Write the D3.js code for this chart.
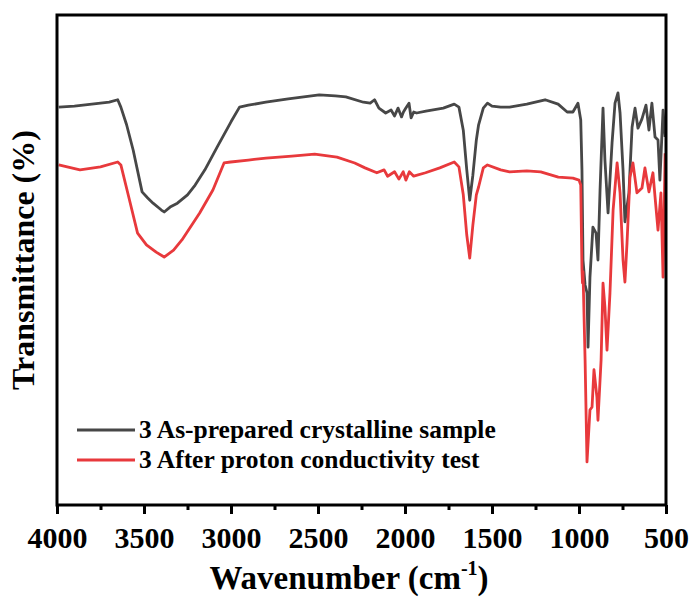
<!DOCTYPE html>
<html>
<head>
<meta charset="utf-8">
<script src="https://cdn.jsdelivr.net/npm/d3@7"></script>
<style>
  body { margin: 0; background: #ffffff; }
</style>
</head>
<body>
<div id="chart"></div>
<script>
// ------------------ data --------------------------------------------------
var seriesNames = ['3 As-prepared crystalline sample', '3 After proton conductivity test'];
var seriesColors = ['#474747', '#e8393c'];

var xTicks = [4000, 3500, 3000, 2500, 2000, 1500, 1000, 500];
var xMinorTicks = [3750, 3250, 2750, 2250, 1750, 1250, 750];

// as-prepared sample: wavenumber / transmittance (arbitrary %)
var asWave = [3990, 3900, 3800, 3700, 3651, 3633, 3600, 3562, 3511, 3480, 3448, 3400, 3384, 3350, 3308, 3250,
  3206, 3150, 3079, 3000, 2951, 2900, 2800, 2671, 2493, 2400, 2340, 2239, 2200, 2175, 2150, 2111, 2080, 2060,
  2040, 2020, 2009, 1995, 1977, 1965, 1950, 1933, 1880, 1780, 1717, 1690, 1665, 1645, 1628, 1610, 1590, 1577,
  1550, 1526, 1500, 1450, 1399, 1300, 1195, 1120, 1068, 1035, 1006, 990, 983, 977, 965, 954, 948, 937, 920,
  902, 891, 879, 862, 851, 833, 810, 793, 776, 764, 747, 736, 713, 695, 678, 661, 638, 615, 598, 581, 563,
  546, 535, 517, 505];
var asVal = [81.2, 81.4, 81.8, 82.2, 82.7, 81.2, 77.6, 72.4, 63.9, 62.7, 61.6, 60.2, 59.8, 60.8, 61.6, 63.3,
  65.3, 68.4, 73.1, 78.2, 81.2, 81.6, 82.2, 82.9, 83.7, 83.5, 83.3, 82.2, 82.0, 82.7, 81.0, 80.0, 80.6, 79.4,
  81.0, 79.2, 80.2, 81.0, 82.0, 79.0, 80.2, 80.0, 80.4, 81.0, 81.8, 81.2, 76.5, 68.4, 62.2, 67.3, 74.5, 77.6,
  81.0, 82.0, 81.4, 81.2, 81.2, 81.8, 82.7, 81.8, 80.2, 80.2, 82.0, 78.6, 68.4, 50.0, 44.9, 43.3, 32.2, 46.5, 56.7,
  55.5, 50.0, 64.3, 81.0, 70.4, 59.6, 73.9, 82.0, 84.1, 80.0, 68.4, 57.8, 63.7, 77.1, 81.0, 76.9, 78.8, 81.6, 76.5, 82.0, 75.1,
  74.5, 66.3, 80.6, 75.1];

// after proton conductivity test
var afWave = [3990, 3868, 3750, 3651, 3633, 3588, 3537, 3486, 3430, 3384, 3330, 3282, 3180, 3104, 3040, 3002,
  2900, 2799, 2650, 2519, 2391, 2289, 2230, 2162, 2120, 2100, 2060, 2035, 2010, 1995, 1975, 1950, 1882, 1800,
  1717, 1690, 1665, 1645, 1628, 1610, 1590, 1577, 1550, 1526, 1450, 1399, 1300, 1220, 1119, 1035, 1000, 990,
  983, 980, 977, 965, 954, 937, 925, 914, 897, 891, 873, 862, 851, 839, 822, 804, 781, 764, 747, 736, 724,
  707, 690, 667, 638, 621, 598, 575, 563, 546, 529, 517, 505];
var afVal = [69.4, 68.4, 69.0, 70.0, 69.4, 62.9, 55.5, 53.1, 51.6, 50.6, 52.0, 54.1, 59.6, 64.3, 69.8, 70.0,
  70.4, 70.8, 71.2, 71.6, 71.0, 69.8, 68.8, 67.8, 68.4, 67.1, 68.0, 66.5, 68.0, 66.3, 68.0, 67.1, 67.8, 68.8,
  70.0, 69.0, 63.3, 55.1, 50.4, 57.1, 63.3, 64.9, 68.8, 69.4, 68.4, 68.0, 68.2, 68.0, 66.9, 66.7, 66.3, 65.3,
  48.0, 45.3, 47.6, 29.6, 8.8, 19.4, 20.0, 27.6, 22.0, 17.3, 29.6, 45.3, 40.4, 31.6, 43.3, 60.2, 69.8, 63.7, 50.0, 45.5, 53.5,
  66.9, 69.8, 63.7, 64.7, 68.8, 63.9, 67.8, 62.9, 56.1, 63.7, 46.5, 71.8];

// ------------------ layout ---------------------------
var width = 695, height = 597;
var margin = {left: 57, top: 15, right: 29, bottom: 92};
var pw = width - margin.left - margin.right;
var ph = height - margin.top - margin.bottom;
var font = "'Liberation Serif', 'DejaVu Serif', serif";

var svg = d3.select('#chart').append('svg').attr('width', width).attr('height', height)
            .style('font-family', font).style('font-weight', 'bold');

var x = d3.scaleLinear().domain([4000, 500]).range([margin.left, margin.left + pw]);
var y = d3.scaleLinear().domain([0, 100]).range([margin.top + ph, margin.top]);

svg.append('clipPath').attr('id', 'clip')
   .append('rect').attr('x', margin.left).attr('y', margin.top).attr('width', pw).attr('height', ph);

// ------------------ curves ---------------------------
var series = [d3.zip(asWave, asVal), d3.zip(afWave, afVal)];
var line = d3.line().x(d => x(d[0])).y(d => y(d[1]));

svg.append('g').attr('clip-path', 'url(#clip)')
   .selectAll('path').data(series).enter()
   .append('path').attr('d', line)
   .attr('fill', 'none').attr('stroke', (d, i) => seriesColors[i])
   .attr('stroke-width', 2.8).attr('stroke-linejoin', 'round');

// ------------------ frame ---------------------------
svg.append('rect').attr('x', margin.left).attr('y', margin.top).attr('width', pw).attr('height', ph)
   .attr('fill', 'none').attr('stroke', '#000').attr('stroke-width', 3);

// ------------------ x axis ---------------------------
var xAxis = svg.append('g').attr('transform', `translate(0,${margin.top + ph})`)
   .call(d3.axisBottom(x).tickValues(xTicks).tickFormat(d3.format('d')).tickSize(9).tickPadding(13));
xAxis.attr('font-family', null).attr('font-size', null);
xAxis.select('.domain').remove();
xAxis.selectAll('line').attr('stroke', '#000').attr('stroke-width', 3);
xAxis.selectAll('text').style('font-size', '30px').attr('fill', '#000');

var xMinor = svg.append('g').attr('transform', `translate(0,${margin.top + ph})`)
   .call(d3.axisBottom(x).tickValues(xMinorTicks).tickFormat('').tickSize(5));
xMinor.select('.domain').remove();
xMinor.selectAll('line').attr('stroke', '#000').attr('stroke-width', 3);

// axis titles
var xt = svg.append('text').attr('x', 349).attr('y', 589).attr('text-anchor', 'middle')
   .style('font-size', '33px').attr('fill', '#000');
xt.append('tspan').text('Wavenumber (cm');
xt.append('tspan').style('font-size', '20px').attr('dy', -14).text('-1');
xt.append('tspan').attr('dy', 14).text(')');

svg.append('text').attr('transform', `translate(34,${margin.top + ph / 2}) rotate(-90)`)
   .attr('text-anchor', 'middle').style('font-size', '32px').attr('fill', '#000')
   .text('Transmittance (%)');

// ------------------ legend ---------------------------
var legend = svg.selectAll('.legend').data(seriesNames).enter()
   .append('g').attr('transform', (d, i) => `translate(77,${430 + i * 30})`);
legend.append('line').attr('x1', 0).attr('x2', 58)
   .attr('stroke', (d, i) => seriesColors[i]).attr('stroke-width', 3);
legend.append('text').attr('x', 62).attr('y', 8).style('font-size', '25.5px').attr('fill', '#000').text(d => d);
</script>
</body>
</html>
